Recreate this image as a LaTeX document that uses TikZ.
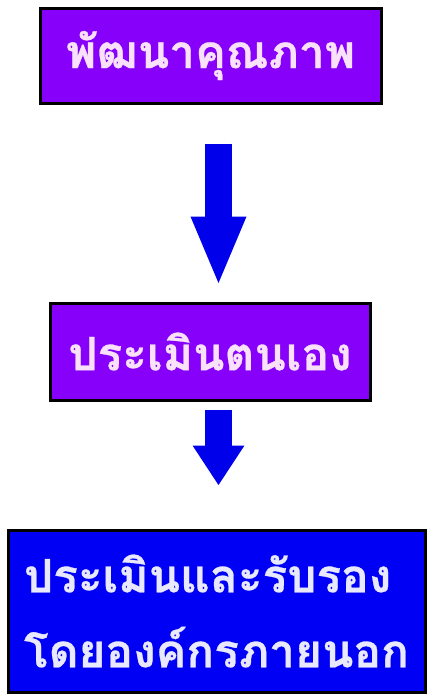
\documentclass[tikz,border=0pt]{standalone}
\usepackage{fontspec}
\newfontfamily\thaifont[Script=Thai, BoldFeatures={FakeBold=0.6}]{Loma}
\usetikzlibrary{arrows.meta}
\definecolor{boxpurple}{RGB}{135,0,250}
\definecolor{boxblue}{RGB}{0,0,245}
\definecolor{arrowblue}{RGB}{0,0,235}
\definecolor{pinkwhite}{RGB}{250,225,250}
\definecolor{bluewhite}{RGB}{232,232,255}
\begin{document}
\begin{tikzpicture}[x=1pt, y=-1pt,
	stepbox/.style={draw=black, line width=3pt, inner sep=0pt, align=left,
		font=\thaifont\bfseries\fontsize{46}{75}\selectfont},
	flow/.style={arrowblue, line width=27pt, -{Triangle[length=70pt, width=50pt]}}]
	\useasboundingbox (0, 0) rectangle (430, 694);
	\node[stepbox, fill=boxpurple, text=pinkwhite, minimum width=341pt, minimum height=95pt] at (210.5, 55.5) (1) {พัฒนาคุณภาพ};
	\node[stepbox, fill=boxpurple, text=pinkwhite, minimum width=320pt, minimum height=97pt] at (210, 351.5) (2) {ประเมินตนเอง};
	\node[stepbox, fill=boxblue, text=bluewhite, minimum width=417pt, minimum height=162pt] at (216.5, 611) (3) {ประเมินและรับรอง\\โดยองค์กรภายนอก};
	\draw[flow, shorten <=39pt, shorten >=15pt] ([xshift=8pt]1.south) -- ([xshift=8.5pt]2.north);
	\draw[flow, -{Triangle[length=40pt, width=49pt]}, shorten <=8pt, shorten >=43pt] ([xshift=8.5pt]2.south) -- ([xshift=2pt]3.north);
\end{tikzpicture}
\end{document}
